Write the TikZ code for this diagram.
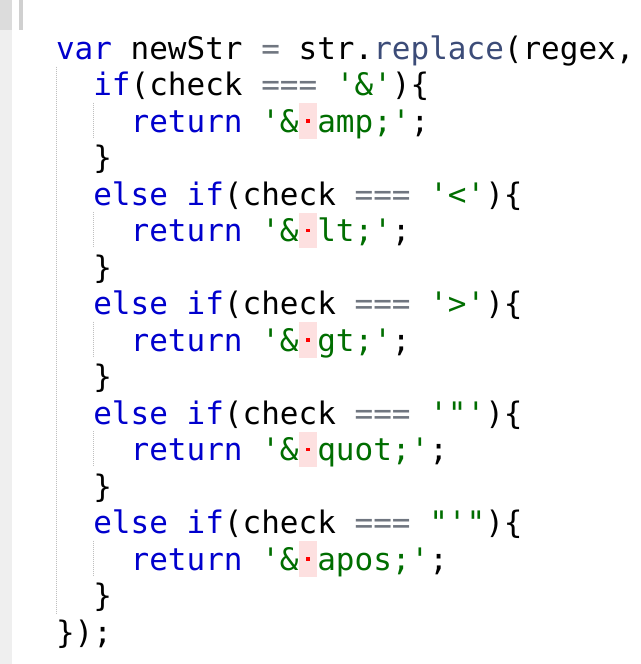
\documentclass[tikz,border=0pt]{standalone}
\usepackage{fontspec}
\setmonofont{DejaVu Sans Mono}
\definecolor{kwblue}{RGB}{0,0,205}
\definecolor{strgreen}{RGB}{0,110,0}
\definecolor{opgray}{RGB}{112,118,128}
\definecolor{fnslate}{RGB}{60,76,120}
\definecolor{markpink}{RGB}{253,224,224}
\definecolor{stripbg}{RGB}{239,239,239}
\definecolor{stripdark}{RGB}{220,220,220}
\definecolor{barg}{RGB}{208,208,208}
\newcommand{\kw}[1]{\textcolor{kwblue}{#1}}
\newcommand{\st}[1]{\textcolor{strgreen}{#1}}
\newcommand{\op}[1]{\textcolor{opgray}{#1}}
\newcommand{\fn}[1]{\textcolor{fnslate}{#1}}
\begin{document}
\begin{tikzpicture}[x=1pt,y=-1pt,
	code/.style={anchor=base west,inner sep=0pt,outer sep=0pt,font=\ttfamily\fontsize{31}{36.5}\selectfont},
	guide/.style={line width=1pt,color=black!25,dash pattern=on 1pt off 1pt}]
		\def\cw{18.66}
		\def\lh{36.5}
		% page
		\fill[white] (0,0) rectangle (640,664);
		\useasboundingbox (0,0) rectangle (640,664);
		% left strip
		\fill[stripbg] (0,0) rectangle (12,664);
		\fill[stripdark] (0,0) rectangle (12,30);
		\fill[barg] (19,0) rectangle (23,30);
		% indent guides
		\draw[guide] (56,66.5) -- (56,613);
		\foreach \i in {2,5,8,11,14}
			\draw[guide] (56+2*\cw,59+\i*\lh-29.5) -- (56+2*\cw,59+\i*\lh+6);
		% marked spaces
		\foreach \i in {2,5,8,11,14}{
			\fill[markpink] (56+13*\cw,59+\i*\lh-29) rectangle ++(\cw,35.5);
			\fill[red] (56+13.5*\cw-1.8,59+\i*\lh-12.8) rectangle ++(3.6,3.6);
		}
		% code lines
		\node[code] (l1) at (56,59) {\kw{var} newStr \op{=} str.\fn{replace}(regex,};
		\node[code] (l2) at (56+2*\cw,59+\lh) {\kw{if}(check \op{===} \st{'\&'})\{};
		\node[code] (l3) at (56+4*\cw,59+2*\lh) {\kw{return} \st{'\&}\ \st{amp;'};};
		\node[code] (l4) at (56+2*\cw,59+3*\lh) {\}};
		\node[code] (l5) at (56+2*\cw,59+4*\lh) {\kw{else} \kw{if}(check \op{===} \st{'<'})\{};
		\node[code] (l6) at (56+4*\cw,59+5*\lh) {\kw{return} \st{'\&}\ \st{lt;'};};
		\node[code] (l7) at (56+2*\cw,59+6*\lh) {\}};
		\node[code] (l8) at (56+2*\cw,59+7*\lh) {\kw{else} \kw{if}(check \op{===} \st{'>'})\{};
		\node[code] (l9) at (56+4*\cw,59+8*\lh) {\kw{return} \st{'\&}\ \st{gt;'};};
		\node[code] (l10) at (56+2*\cw,59+9*\lh) {\}};
		\node[code] (l11) at (56+2*\cw,59+10*\lh) {\kw{else} \kw{if}(check \op{===} \st{'"'})\{};
		\node[code] (l12) at (56+4*\cw,59+11*\lh) {\kw{return} \st{'\&}\ \st{quot;'};};
		\node[code] (l13) at (56+2*\cw,59+12*\lh) {\}};
		\node[code] (l14) at (56+2*\cw,59+13*\lh) {\kw{else} \kw{if}(check \op{===} \st{"'"})\{};
		\node[code] (l15) at (56+4*\cw,59+14*\lh) {\kw{return} \st{'\&}\ \st{apos;'};};
		\node[code] (l16) at (56+2*\cw,59+15*\lh) {\}};
		\node[code] (l17) at (56,59+16*\lh) {\});};
\end{tikzpicture}
\end{document}
